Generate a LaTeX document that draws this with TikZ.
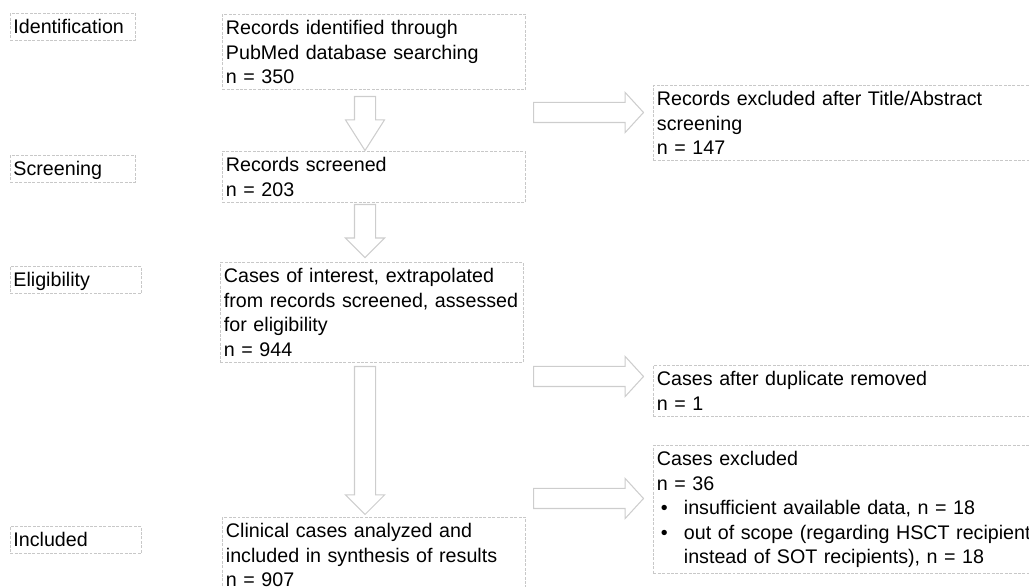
\documentclass[tikz,border=0pt]{standalone}
\usepackage{fontspec}
\setmainfont{Liberation Sans}
\usetikzlibrary{shapes.arrows}
\definecolor{boxline}{RGB}{200,200,200}
\definecolor{arrowline}{RGB}{205,205,205}
\newcommand{\listdot}{\hspace*{0.08cm}\makebox[0.46cm][l]{\textbullet}}

\begin{document}
\begin{tikzpicture}[x=0.02cm,y=-0.02cm,font=\fontsize{11.2pt}{13.95pt}\selectfont,
stage/.style={draw=boxline,line width=0.5pt,dash pattern=on 1.7pt off 0.8pt,anchor=north west,align=left,inner xsep=0.06cm,inner ysep=0pt,minimum height=0.54cm,text height=9.5pt,text depth=1.5pt},
record/.style={draw=boxline,line width=0.5pt,dash pattern=on 1.7pt off 0.8pt,anchor=north west,align=left,inner xsep=0.07cm,inner ysep=3.4pt,text width=5.92cm},
flow/.style={draw=arrowline,line width=0.6pt,single arrow,anchor=tail,single arrow head extend=0.18cm,inner xsep=0pt,inner ysep=0.2cm}]
\clip[use as bounding box] (0,0) rectangle (1029,587);
\node[stage,text width=2.38cm] (ident) at (10,13) {Identification};
\node[stage,text width=2.38cm] (screen) at (10,155) {Screening};
\node[stage,text width=2.5cm] (elig) at (10,266) {Eligibility};
\node[stage,text width=2.5cm] (incl) at (10,526) {Included};
\node[record] (found) at (222,14) {Records identified through\\PubMed database searching\\n = 350};
\node[record] (screened) at (222,151) {Records screened\\n = 203};
\node[record] (assessed) at (220,262) {Cases of interest, extrapolated\\from records screened, assessed\\for eligibility\\n = 944};
\node[record] (included) at (222,517) {Clinical cases analyzed and\\included in synthesis of results\\n = 907};
\node[record,text width=8cm] (excluded) at (653,85) {Records excluded after Title/Abstract\\screening\\n = 147};
\node[record,text width=8cm] (duplicate) at (653,365) {Cases after duplicate removed\\n = 1};
\node[record,text width=8cm] (caseout) at (653,445) {Cases excluded\\n = 36\\\listdot insufficient available data, n = 18\\\listdot out of scope (regarding HSCT recipient\\\hspace*{0.54cm}instead of SOT recipients), n = 18};
\node[flow,rotate=-90,minimum height=1.08cm,single arrow tip angle=65] (down1) at (365,96) {};
\node[flow,rotate=-90,minimum height=1.06cm,single arrow tip angle=90] (down2) at (365,204) {};
\node[flow,rotate=-90,minimum height=2.96cm,single arrow tip angle=90] (down3) at (365,366) {};
\node[flow,minimum height=2.2cm,inner ysep=0.19cm,single arrow head extend=0.2cm,single arrow tip angle=95] (side1) at (533,112.5) {};
\node[flow,minimum height=2.2cm,inner ysep=0.19cm,single arrow head extend=0.2cm,single arrow tip angle=95] (side2) at (533,376.5) {};
\node[flow,minimum height=2.2cm,inner ysep=0.19cm,single arrow head extend=0.2cm,single arrow tip angle=95] (side3) at (533,498.5) {};
\end{tikzpicture}
\end{document}
